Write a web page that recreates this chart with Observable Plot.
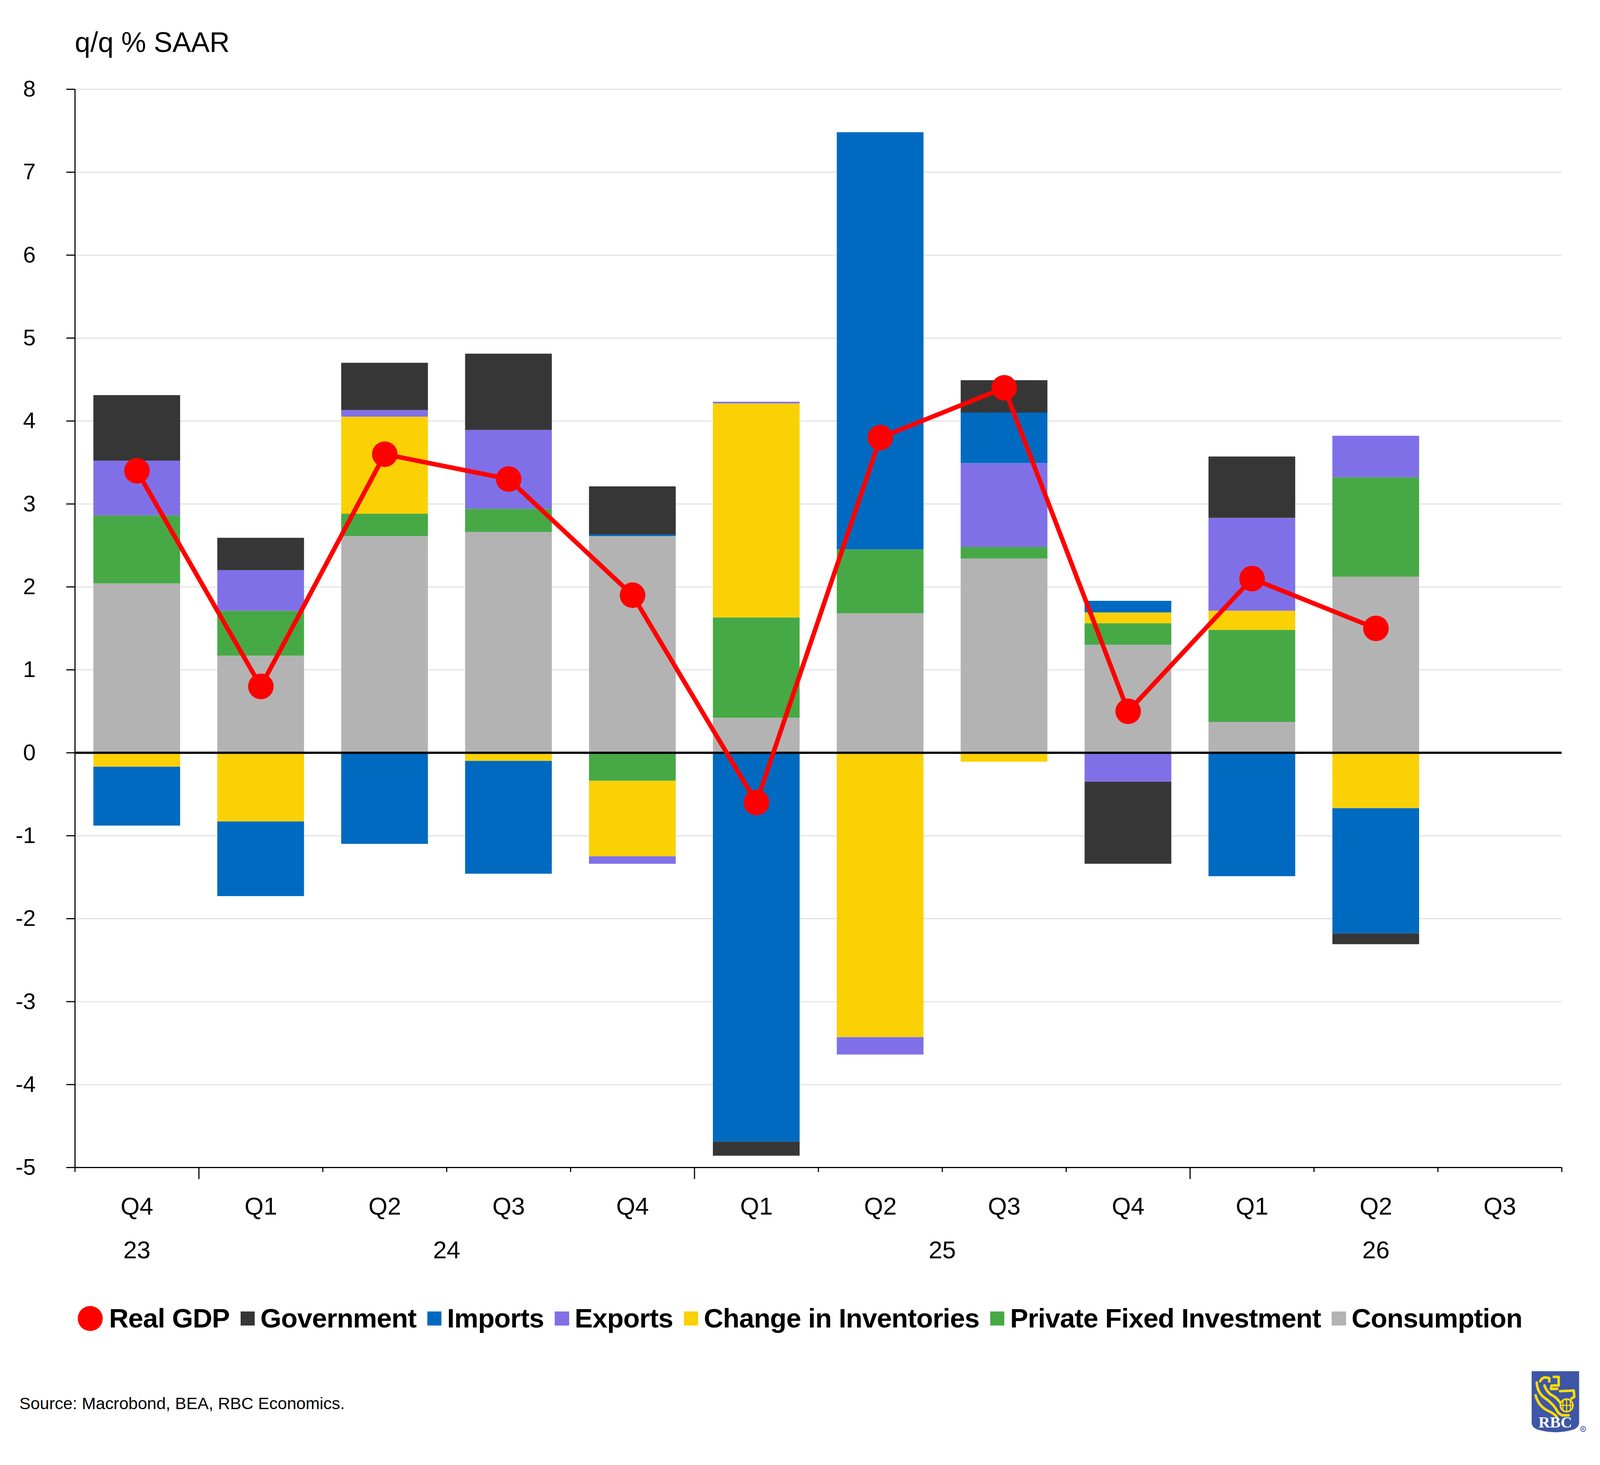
<!DOCTYPE html>
<html>
<head>
<meta charset="utf-8">
<script src="https://cdn.jsdelivr.net/npm/d3@7"></script>
<script src="https://cdn.jsdelivr.net/npm/@observablehq/plot@0.6"></script>
<style>
  html, body { margin: 0; padding: 0; background: #fff; overflow: hidden; width: 100%; height: 100%; }
  body { position: relative; font-family: "Liberation Sans", Arial, sans-serif; color: #000; }
  #title, #legend, #source, #chart, #logo { position: absolute; }
  #title, #source { line-height: 1; white-space: nowrap; }
  #legend { display: flex; justify-content: center; align-items: center; font-weight: bold; line-height: 1; white-space: nowrap; }
  .item { display: flex; align-items: center; }
</style>
</head>
<body>
<div id="title">q/q % SAAR</div>
<div id="chart"></div>
<div id="legend"></div>
<div id="source">Source: Macrobond, BEA, RBC Economics.</div>
<svg id="logo" viewBox="0 0 200 225">
  <path d="M0,0 H167 V180 Q167,200 140,207 Q84,222 28,207 Q0,200 0,180 Z" fill="#3d56a6"/>
  <g fill="none" stroke="#ffdc00" stroke-width="9" stroke-linecap="round" stroke-linejoin="round">
    <path d="M30,35 Q38,20 50,22 L62,24 L62,36 M78,20 L95,20 L95,50 L70,50 L68,62 L90,62"/>
    <path d="M18,40 Q20,80 55,100 Q80,120 90,140 Q95,150 108,155 L130,155"/>
    <path d="M14,85 Q25,125 60,140 Q80,150 88,160"/>
    <path d="M45,50 Q55,78 78,88 Q90,95 100,110"/>
    <path d="M100,70 L148,68 L150,90 L140,96"/>
    <circle cx="123" cy="120" r="22" stroke-width="6"/>
    <path d="M101,120 H145 M123,98 V142 M110,104 V136 M136,104 V136" stroke-width="4"/>
  </g>
  <text x="83" y="198" text-anchor="middle" font-family="Liberation Serif, serif" font-weight="bold" font-size="56" fill="#ffffff">RBC</text>
  <circle cx="181" cy="203" r="9" fill="none" stroke="#3d56a6" stroke-width="2.5"/>
  <text x="181" y="208" text-anchor="middle" font-family="Liberation Sans, sans-serif" font-weight="bold" font-size="13" fill="#3d56a6">R</text>
</svg>
<script>
// ---------- Data ----------
const periods = ["2023Q4","2024Q1","2024Q2","2024Q3","2024Q4","2025Q1","2025Q2","2025Q3","2025Q4","2026Q1","2026Q2","2026Q3"];
const quarterLabels = ["Q4","Q1","Q2","Q3","Q4","Q1","Q2","Q3","Q4","Q1","Q2","Q3"];
const yearOfPeriod = periods.map(p => p.slice(2, 4));

const consumption = [2.04, 1.17, 2.61, 2.66, 2.61, 0.42, 1.68, 2.34, 1.30, 0.37, 2.12, null];
const investment  = [0.82, 0.54, 0.27, 0.28, -0.34, 1.21, 0.77, 0.14, 0.26, 1.11, 1.20, null];
const inventories = [-0.17, -0.83, 1.17, -0.10, -0.91, 2.58, -3.43, -0.11, 0.13, 0.23, -0.67, null];
const exportsS    = [0.66, 0.49, 0.08, 0.95, -0.09, 0.02, -0.21, 1.01, -0.35, 1.12, 0.50, null];
const importsS    = [-0.71, -0.90, -1.10, -1.36, 0.02, -4.69, 5.03, 0.61, 0.14, -1.49, -1.51, null];
const government  = [0.79, 0.39, 0.57, 0.92, 0.58, -0.17, 0.00, 0.39, -0.99, 0.74, -0.13, null];
const realGDP     = [3.4, 0.8, 3.6, 3.3, 1.9, -0.6, 3.8, 4.4, 0.5, 2.1, 1.5, null];

const seriesNames  = ["Consumption","Private Fixed Investment","Change in Inventories","Exports","Imports","Government"];
const seriesColors = ["#b3b3b3","#47a946","#fad105","#8070e8","#006ac1","#363636"];
const seriesValues = [consumption, investment, inventories, exportsS, importsS, government];
const yTicks = [-5,-4,-3,-2,-1,0,1,2,3,4,5,6,7,8];
const legendOrder = ["Government","Imports","Exports","Change in Inventories","Private Fixed Investment","Consumption"];

// ---------- Tables ----------
const rows = [];
seriesNames.forEach((s, j) => periods.forEach((p, i) => {
  const v = seriesValues[j][i];
  if (v != null) rows.push({period: p, series: s, value: v});
}));
const gdpRows = periods.map((p, i) => ({period: p, gdp: realGDP[i]})).filter(d => d.gdp != null);

function build() {
  const vw = window.innerWidth || 5625, vh = window.innerHeight || 3750;
  const sx = vw / 5625, sy = vh / 3750, f = sx;   // layout units of a 5625x3750 design

  // ---- chart ----
  const W = 5625 * sx, H = 3270 * sy;
  const mL = 263 * sx, mR = 135 * sx, mT = 228 * sy, mB = 282 * sy;
  const step = (W - mL - mR) / periods.length;
  const plotH = H - mT - mB;

  const years = [...new Set(yearOfPeriod)];
  const yearMarks = years.map(y => {
    const idx = yearOfPeriod.map((v, i) => v === y ? i : -1).filter(i => i >= 0);
    return Plot.text([{period: periods[idx[0]], label: y}], {
      x: "period", text: "label", frameAnchor: "bottom", lineAnchor: "middle",
      dx: (idx.length - 1) / 2 * step, dy: 212 * sy, fontSize: 86 * f
    });
  });
  const longTicks = periods.filter((p, i) => quarterLabels[i] === "Q1");
  const shortTicks = periods.filter((p, i) => quarterLabels[i] !== "Q1");

  const chart = Plot.plot({
    width: W, height: H,
    marginLeft: mL, marginRight: mR, marginTop: mT, marginBottom: mB,
    style: {fontFamily: '"Liberation Sans", Arial, sans-serif', color: "#000", background: "transparent", overflow: "visible"},
    x: {type: "band", domain: periods, paddingInner: 0.3, paddingOuter: 0.15, round: false, label: null, axis: null},
    y: {domain: [yTicks[0], yTicks[yTicks.length - 1]], label: null},
    color: {domain: seriesNames, range: seriesColors},
    marks: [
      Plot.gridY(yTicks, {stroke: "#e3e3e3", strokeOpacity: 1, strokeWidth: 4 * f}),
      Plot.barY(rows, Plot.stackY({x: "period", y: "value", fill: "series", order: seriesNames})),
      Plot.ruleY([0], {stroke: "#000", strokeWidth: 8 * f}),
      Plot.ruleX([periods[0]], {dx: -step / 2, stroke: "#000", strokeWidth: 4 * f}),
      Plot.ruleY([yTicks[0]], {stroke: "#000", strokeWidth: 4 * f}),
      Plot.axisY(yTicks, {tickSize: 30 * sx, tickPadding: 108 * sx, fontSize: 80 * f, strokeWidth: 4 * f, label: null, tickFormat: d => String(d)}),
      Plot.text(periods, {x: d => d, text: d => quarterLabels[periods.indexOf(d)], frameAnchor: "bottom", lineAnchor: "middle", dy: 100 * sy, fontSize: 86 * f}),
      Plot.tickX(shortTicks, {x: d => d, dx: -step / 2, insetTop: plotH, insetBottom: -12 * sy, stroke: "#000", strokeWidth: 4 * f}),
      Plot.tickX([periods[periods.length - 1]], {x: d => d, dx: step / 2, insetTop: plotH, insetBottom: -12 * sy, stroke: "#000", strokeWidth: 4 * f}),
      Plot.tickX(longTicks, {x: d => d, dx: -step / 2, insetTop: plotH, insetBottom: -30 * sy, stroke: "#000", strokeWidth: 4 * f}),
      ...yearMarks,
      Plot.line(gdpRows, {x: "period", y: "gdp", stroke: "#ff0000", strokeWidth: 16 * f}),
      Plot.dot(gdpRows, {x: "period", y: "gdp", r: 45 * f, fill: "#ff0000", stroke: "none"})
    ]
  });
  const holder = document.getElementById("chart");
  holder.innerHTML = "";
  holder.style.left = "0px"; holder.style.top = "0px";
  holder.appendChild(chart);

  // ---- title ----
  const title = document.getElementById("title");
  const tf = 98 * f;
  Object.assign(title.style, {fontSize: tf + "px", left: 263 * sx + "px", top: (108 * sy - 0.4885 * tf) + "px"});

  // ---- legend ----
  const lf = 95 * f;
  const legend = document.getElementById("legend");
  Object.assign(legend.style, {fontSize: lf + "px", letterSpacing: (-1.1 * f) + "px", left: "0px", width: vw + "px",
    top: (3375 * sy - 60 * f) + "px", height: 120 * f + "px"});
  legend.innerHTML = "";
  const addItem = (swatchCss, label) => {
    const it = document.createElement("div");
    it.className = "item";
    it.style.margin = `0 ${19 * f}px`;
    const sw = document.createElement("span");
    Object.assign(sw.style, swatchCss);
    const tx = document.createElement("span");
    tx.textContent = label;
    it.appendChild(sw); it.appendChild(tx);
    legend.appendChild(it);
  };
  addItem({width: 88 * f + "px", height: 88 * f + "px", borderRadius: "50%", background: "#ff0000", marginRight: 22 * f + "px", display: "inline-block"}, "Real GDP");
  legendOrder.forEach(name => {
    const c = seriesColors[seriesNames.indexOf(name)];
    addItem({width: 50 * f + "px", height: 50 * f + "px", background: c, marginRight: 20 * f + "px", display: "inline-block"}, name);
  });

  // ---- source ----
  const sf = 59 * f;
  const source = document.getElementById("source");
  Object.assign(source.style, {fontSize: sf + "px", left: 68 * sx + "px", top: (3592 * sy - 0.4885 * sf) + "px"});

  // ---- logo ----
  const logo = document.getElementById("logo");
  logo.setAttribute("width", 200 * f);
  logo.setAttribute("height", 225 * f);
  Object.assign(logo.style, {left: 5385 * sx + "px", top: (3590 * sy - 110 * f) + "px"});
}
build();
window.addEventListener("resize", build);
</script>
</body>
</html>
